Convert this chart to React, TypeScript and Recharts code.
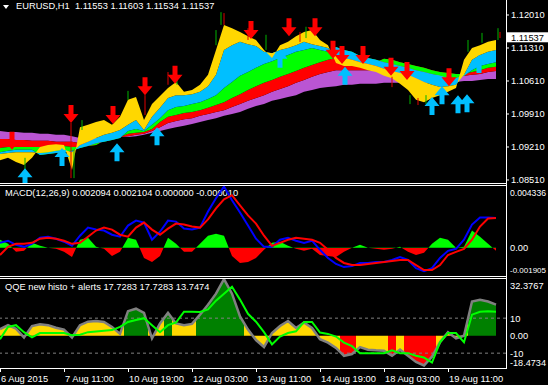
import React from 'react';
import { ComposedChart, Area, Line, Scatter, XAxis, YAxis, ReferenceLine } from 'recharts';

// H1 bars, sampled every 4th bar (bar 0 = 6 Aug 03:00)
const bars = [0, 4, 8, 12, 16, 20, 24, 28, 32, 36, 40, 44, 48, 52, 56, 60, 64, 68, 72, 76, 80, 84, 88, 92, 96, 100, 104, 108, 112, 116, 120, 124, 128, 132, 136, 140, 144, 148, 152, 156, 160, 164, 168, 172, 176, 180, 184, 188, 192, 196, 200, 204, 208, 212, 216, 220, 224, 228, 232, 236, 240, 244, 248];

// MA ribbon, slowest (ma0) to fastest (ma5)
const ma0 = [1.0955, 1.0953, 1.0953, 1.0951, 1.0951, 1.0949, 1.0949, 1.0947, 1.0947, 1.0944, 1.0940, 1.0940, 1.0940, 1.0940, 1.0940, 1.0942, 1.0942, 1.0944, 1.0947, 1.0951, 1.0955, 1.0959, 1.0963, 1.0966, 1.0970, 1.0974, 1.0978, 1.0982, 1.0987, 1.0991, 1.0995, 1.1002, 1.1008, 1.1012, 1.1019, 1.1023, 1.1027, 1.1031, 1.1038, 1.1042, 1.1046, 1.1048, 1.1050, 1.1053, 1.1053, 1.1055, 1.1055, 1.1055, 1.1057, 1.1057, 1.1057, 1.1057, 1.1057, 1.1057, 1.1057, 1.1059, 1.1059, 1.1059, 1.1061, 1.1061, 1.1063, 1.1065, 1.1065];
const ma1 = [1.0938, 1.0938, 1.0936, 1.0936, 1.0934, 1.0934, 1.0934, 1.0932, 1.0932, 1.0932, 1.0929, 1.0932, 1.0934, 1.0936, 1.0938, 1.0942, 1.0944, 1.0947, 1.0949, 1.0955, 1.0963, 1.0972, 1.0976, 1.0980, 1.0982, 1.0987, 1.0991, 1.0995, 1.0999, 1.1006, 1.1012, 1.1019, 1.1025, 1.1031, 1.1038, 1.1044, 1.1050, 1.1057, 1.1063, 1.1070, 1.1076, 1.1080, 1.1084, 1.1084, 1.1084, 1.1084, 1.1084, 1.1084, 1.1084, 1.1084, 1.1082, 1.1080, 1.1078, 1.1076, 1.1074, 1.1074, 1.1072, 1.1072, 1.1072, 1.1074, 1.1076, 1.1080, 1.1082];
const ma2 = [1.0919, 1.0921, 1.0921, 1.0921, 1.0921, 1.0921, 1.0921, 1.0921, 1.0923, 1.0921, 1.0921, 1.0923, 1.0925, 1.0934, 1.0938, 1.0942, 1.0949, 1.0951, 1.0953, 1.0959, 1.0974, 1.0985, 1.0989, 1.0993, 1.0995, 1.0999, 1.1004, 1.1010, 1.1016, 1.1025, 1.1033, 1.1042, 1.1050, 1.1057, 1.1063, 1.1070, 1.1076, 1.1082, 1.1089, 1.1095, 1.1101, 1.1106, 1.1110, 1.1110, 1.1110, 1.1106, 1.1101, 1.1101, 1.1108, 1.1106, 1.1101, 1.1097, 1.1093, 1.1089, 1.1084, 1.1080, 1.1078, 1.1076, 1.1076, 1.1080, 1.1084, 1.1089, 1.1091];
const ma3 = [1.0910, 1.0913, 1.0915, 1.0915, 1.0915, 1.0904, 1.0906, 1.0908, 1.0910, 1.0913, 1.0919, 1.0923, 1.0929, 1.0932, 1.0936, 1.0940, 1.0955, 1.0959, 1.0955, 1.0968, 1.0982, 1.0999, 1.1006, 1.1008, 1.1012, 1.1016, 1.1023, 1.1031, 1.1046, 1.1059, 1.1072, 1.1080, 1.1089, 1.1097, 1.1103, 1.1110, 1.1116, 1.1123, 1.1127, 1.1131, 1.1127, 1.1123, 1.1133, 1.1127, 1.1123, 1.1114, 1.1110, 1.1106, 1.1101, 1.1097, 1.1093, 1.1089, 1.1084, 1.1080, 1.1076, 1.1072, 1.1067, 1.1067, 1.1072, 1.1084, 1.1093, 1.1097, 1.1101];
const ma4 = [1.0906, 1.0908, 1.0910, 1.0910, 1.0910, 1.0908, 1.0910, 1.0913, 1.0915, 1.0910, 1.0925, 1.0932, 1.0940, 1.0947, 1.0951, 1.0957, 1.0968, 1.0978, 1.0957, 1.0985, 1.1004, 1.1025, 1.1031, 1.1031, 1.1033, 1.1038, 1.1050, 1.1074, 1.1127, 1.1137, 1.1144, 1.1139, 1.1135, 1.1123, 1.1120, 1.1127, 1.1131, 1.1137, 1.1144, 1.1139, 1.1135, 1.1131, 1.1116, 1.1110, 1.1106, 1.1101, 1.1097, 1.1093, 1.1087, 1.1082, 1.1078, 1.1074, 1.1067, 1.1059, 1.1053, 1.1048, 1.1050, 1.1053, 1.1074, 1.1106, 1.1116, 1.1123, 1.1127];
const ma5 = [1.0893, 1.0898, 1.0889, 1.0883, 1.0898, 1.0921, 1.0925, 1.0927, 1.0925, 1.0872, 1.0963, 1.0968, 1.0974, 1.0978, 1.0968, 1.0985, 1.1021, 1.1027, 1.0978, 1.1012, 1.1029, 1.1046, 1.1059, 1.1038, 1.1042, 1.1053, 1.1074, 1.1127, 1.1180, 1.1173, 1.1165, 1.1156, 1.1148, 1.1127, 1.1110, 1.1137, 1.1144, 1.1156, 1.1165, 1.1169, 1.1148, 1.1137, 1.1099, 1.1093, 1.1093, 1.1089, 1.1084, 1.1080, 1.1072, 1.1067, 1.1055, 1.1042, 1.1021, 1.1016, 1.1025, 1.1031, 1.1038, 1.1046, 1.1106, 1.1131, 1.1137, 1.1144, 1.1148];

// last candle O H L C
const lastBar = [1.11553, 1.11603, 1.11534, 1.11537];

// candle wicks poking out of the ribbon
const wickBars = [12.5, 35.5, 37, 41, 64, 72.5, 84, 88.5, 108, 110.5, 112, 124, 133, 150, 153, 196, 205, 209, 213, 234, 241, 249, 250];
const wickHigh = [1.0898, 1.0972, 1.0915, 1.0978, 1.1040, 1.1031, 1.1080, 1.1074, 1.1169, 1.1207, 1.1205, 1.1173, 1.1159, 1.1165, 1.1176, 1.1070, 1.1031, 1.1025, 1.1031, 1.1148, 1.1163, 1.1173, 1.1165];
const wickLow = [1.0868, 1.0855, 1.0855, 1.0957, 1.1021, 1.0989, 1.1053, 1.1053, 1.1137, 1.1180, 1.1180, 1.1148, 1.1127, 1.1144, 1.1152, 1.1048, 1.1012, 1.1010, 1.1012, 1.1123, 1.1142, 1.1148, 1.1152];
const wickBull = [true, false, true, true, true, false, false, true, true, true, false, false, true, false, true, false, true, false, true, true, true, true, false];

// signal arrows (price at the arrow tip)
const sellBars = [6, 35.5, 56.5, 72.5, 87.5, 125.5, 144.5, 157.5, 166.5, 171, 181.5, 195.5, 203.5, 224.5];
const sellPrice = [1.0915, 1.0972, 1.0970, 1.1031, 1.1055, 1.1150, 1.1156, 1.1156, 1.1108, 1.1097, 1.1097, 1.1072, 1.1063, 1.1050];
const buyBars = [12.5, 31, 58.5, 78.5, 140, 172.5, 216, 221, 229, 233.5, 239.5];
const buyPrice = [1.0876, 1.0919, 1.0929, 1.0963, 1.1127, 1.1091, 1.1027, 1.1050, 1.1031, 1.1033, 1.1116];

// MACD(12,26,9)
const macdMain = [0.00035, 0.00050, 0.00021, 0.00007, 0.00028, 0.00071, 0.00078, 0.00064, 0.00043, 0.00014, 0.00085, 0.00142, 0.00128, 0.00121, 0.00092, 0.00078, 0.00156, 0.00191, 0.00177, 0.00057, 0.00113, 0.00191, 0.00184, 0.00135, 0.00128, 0.00142, 0.00255, 0.00348, 0.00430, 0.00333, 0.00248, 0.00156, 0.00064, 0.00007, 0.00007, 0.00057, 0.00071, 0.00050, 0.00035, 0.00050, -0.00014, -0.00071, -0.00113, -0.00135, -0.00128, -0.00106, -0.00106, -0.00099, -0.00099, -0.00085, -0.00064, -0.00085, -0.00142, -0.00163, -0.00142, -0.00071, -0.00021, -0.00007, 0.00057, 0.00163, 0.00213, 0.00213, 0.00209];
const macdSignal = [-0.00050, 0.00007, 0.00028, 0.00028, 0.00035, 0.00064, 0.00071, 0.00064, 0.00050, 0.00028, 0.00035, 0.00078, 0.00121, 0.00142, 0.00128, 0.00092, 0.00078, 0.00142, 0.00177, 0.00128, 0.00092, 0.00135, 0.00170, 0.00163, 0.00149, 0.00142, 0.00199, 0.00277, 0.00340, 0.00369, 0.00298, 0.00227, 0.00170, 0.00085, 0.00014, 0.00035, 0.00057, 0.00071, 0.00064, 0.00057, 0.00035, -0.00014, -0.00071, -0.00106, -0.00121, -0.00121, -0.00113, -0.00106, -0.00099, -0.00092, -0.00085, -0.00085, -0.00121, -0.00156, -0.00156, -0.00121, -0.00050, -0.00028, -0.00007, 0.00057, 0.00149, 0.00206, 0.00210];
const macdHist = [0.00057, 0.00028, -0.00028, -0.00021, 0.00035, 0.00014, 0, -0.00007, -0.00028, -0.00064, 0.00057, 0.00071, 0.00007, -0.00007, -0.00057, -0.00028, 0.00071, 0.00057, -0.00071, -0.00099, -0.00057, 0.00071, 0.00028, -0.00028, -0.00028, 0.00028, 0.00085, 0.00099, 0.00085, -0.00057, -0.00106, -0.00099, -0.00071, -0.00014, 0.00035, 0.00043, 0.00014, -0.00007, -0.00021, -0.00007, -0.00050, -0.00057, -0.00064, -0.00028, 0, 0.00021, 0, -0.00007, -0.00014, -0.00007, 0.00007, -0.00028, -0.00050, -0.00035, 0.00028, 0.00071, 0.00057, 0, 0.00007, 0.00121, 0.00078, 0.00028, -0.00021];
const macdLegend = [0.002094, 0.002104, 0, -0.00001];

// QQE new histo
const qqeRsi = [3.8, 6, 4, -1, 5.5, 6.5, 6, 4.5, 3.5, -1, 6, 8, 8.4, 7.8, 5, 1, 14, 15.4, 13, -1.5, 7, 13, 7, 6, 6.7, 12, 17.7, 24, 32.3, 24, 11, 3.5, -2.5, -6.5, 1.5, 5.5, 8.4, 4.4, 7.5, 4.4, -2, -4, -7, -11.5, -10.5, -6.5, -8, -8.4, -8.6, -11.5, -8, -11.5, -15, -17, -12, -3.8, 2, -1.5, 0, 19.5, 20.5, 19.5, 17.7];
const qqeTrail = [-2, 5, 6, 2, -1, 1.5, 1.5, 1.5, 1.5, 0.3, 0.5, 2, 2.4, 2.8, 3.2, 5, 7.8, 9, 10, 6, 2, 6, 7.5, 13.7, 13.7, 13.5, 15, 20, 24, 28, 20.6, 12.5, 8, 2, -5, -0.5, 1.5, 2.5, 7.8, 7.8, 1.8, 1, -0.5, -4, -6, -10, -10, -10, -10, -8.4, -10, -10, -11.5, -12.5, -15.4, -3.8, 1.5, 1.5, -3.8, 12, 13.7, 13.9, 13.7];
const qqeLegend = [17.7283, 17.7283, 13.7474];

const timeTickBars = [0, 32, 64, 96, 128, 160, 192, 224];
const timeLabels = ['6 Aug 2015', '7 Aug 11:00', '10 Aug 19:00', '12 Aug 03:00', '13 Aug 11:00', '14 Aug 19:00', '18 Aug 03:00', '19 Aug 11:00'];

const priceTicks = [1.1201, 1.1131, 1.1061, 1.0991, 1.0921, 1.0851];

const W = 548;
const AXIS_W = 42;
const PLOT_W = W - AXIS_W;
const BAR_SPAN = 253;
const PRICE_MIN = 1.08446, PRICE_MAX = 1.12328;
const MACD_MIN = -0.001905, MACD_MAX = 0.004336;
const QQE_MIN = -18.4734, QQE_MAX = 32.3767;
const MAIN_H = 183, SUB_H = 89, TIME_H = 17;
const FONT = '"Liberation Sans", Arial, sans-serif';
const FS = 9.3;

const mainRows = bars.map((bar, i) => ({ bar, m0: ma0[i], m1: ma1[i], m2: ma2[i], m3: ma3[i], m4: ma4[i], m5: ma5[i] }));
const macdRows = bars.map((bar, i) => ({ bar, main: macdMain[i], signal: macdSignal[i], hist: macdHist[i] }));
const qqeRows = bars.map((bar, i) => ({ bar, rsi: qqeRsi[i], trail: qqeTrail[i] }));
const sells = sellBars.map((bar, i) => ({ bar, price: sellPrice[i] }));
const buys = buyBars.map((bar, i) => ({ bar, price: buyPrice[i] }));

const ribbon = [
  { k: ['m0', 'm1'], c: '#BA55D3' },
  { k: ['m1', 'm2'], c: '#FF0000' },
  { k: ['m2', 'm3'], c: '#00FF00' },
  { k: ['m3', 'm4'], c: '#00BFFF' },
  { k: ['m4', 'm5'], c: '#FFD700' },
];

const qqeColor = (v: number) => (v > 10 ? '#008000' : v < -10 ? '#FF0000' : '#FFD700');

const arrowPts = (cx: number, cy: number, dir: number) =>
  [[-2.5, -18], [2.5, -18], [2.5, -9], [7.5, -9], [0, 0], [-7.5, -9], [-2.5, -9]]
    .map(([dx, dy]) => `${cx + dx},${cy + dy * dir}`)
    .join(' ');

const SellArrow = (p: any) => <polygon points={arrowPts(p.cx, p.cy, 1)} fill="#FF0000" />;
const BuyArrow = (p: any) => <polygon points={arrowPts(p.cx, p.cy, -1)} fill="#00BFFF" />;

// rough Arial advance widths, used to shrink a right-axis label that would run off the window
const textEm = (s: string) => [...s].reduce((w, ch) => w + (ch === '.' ? 0.278 : ch === '-' ? 0.333 : 0.556), 0);
const fitSize = (x: number, s: string) => Math.min(FS, (W - 2 - x) / textEm(s));

const PriceTick = ({ x, y, payload }: any) => {
  const v = payload.value;
  const isClose = v === lastBar[3];
  return (
    <g>
      {isClose && <rect x={x - 4} y={y - 5} width={W - x + 4} height={10} fill="#fff" />}
      <text x={x} y={y} dy="0.36em" fill={isClose ? '#000' : '#fff'} fontSize={FS} fontFamily={FONT}>{v.toFixed(5)}</text>
    </g>
  );
};

const subTick = (max: number, min: number, fmt: (v: number) => string) => ({ x, y, payload }: any) => {
  const v = payload.value;
  const shift = v === max ? 7 : v === min ? -5 : 0;
  const s = fmt(v);
  return (
    <text x={x} y={y + shift} dy="0.36em" fill="#fff" fontSize={fitSize(x, s)} fontFamily={FONT}>{s}</text>
  );
};
const MacdTick = subTick(MACD_MAX, MACD_MIN, (v) => (v === 0 ? '0.00' : v.toFixed(6)));
const QqeTick = subTick(QQE_MAX, QQE_MIN, (v) => (v === 0 ? '0.00' : Number.isInteger(v) ? String(v) : v.toFixed(4)));

const TimeTick = ({ x, y, payload }: any) => {
  const label = timeLabels[timeTickBars.indexOf(payload.value)];
  return (
    <g>
      <line x1={x + 0.5} y1={y} x2={x + 0.5} y2={y + 4} stroke="#fff" />
      <text x={x + 1} y={y + 14} fill="#fff" fontSize={FS} fontFamily={FONT}>{label}</text>
    </g>
  );
};

const hLine = (top: number) => (
  <div style={{ position: 'absolute', left: 0, top, width: PLOT_W + 1, height: 1, background: '#fff' }} />
);

const titleStyle = (top: number, left: number): React.CSSProperties => ({
  position: 'absolute', left, top, color: '#fff', fontSize: FS, fontFamily: FONT, lineHeight: '11px', whiteSpace: 'pre',
});

export default function App() {
  const zeroFrac = MACD_MAX / (MACD_MAX - MACD_MIN);
  const qqeStops = bars.flatMap((b, i) => {
    const c = qqeColor(qqeRsi[i]);
    return [
      <stop key={`a${i}`} offset={Math.max(0, (b - 2) / BAR_SPAN)} stopColor={c} />,
      <stop key={`b${i}`} offset={Math.min(1, (b + 2) / BAR_SPAN)} stopColor={c} />,
    ];
  });

  return (
    <div style={{ position: 'fixed', left: 0, top: 0, width: W, height: 385, background: '#000', overflow: 'hidden' }}>
      <div style={{ position: 'absolute', left: 3, top: 5, width: 0, height: 0, borderLeft: '3px solid transparent', borderRight: '3px solid transparent', borderTop: '4px solid #fff' }} />
      <div style={titleStyle(1, 16)}>{`EURUSD,H1  ${lastBar.map((v) => v.toFixed(5)).join(' ')}`}</div>
      <div style={titleStyle(188, 5)}>{`MACD(12,26,9) ${macdLegend.map((v) => v.toFixed(6)).join(' ')}`}</div>
      <div style={titleStyle(282, 5)}>{`QQE new histo + alerts ${qqeLegend.map((v) => v.toFixed(4)).join(' ')}`}</div>

      <div style={{ position: 'absolute', left: 0, top: 0 }}>
        <ComposedChart width={W} height={MAIN_H + 4} data={mainRows} margin={{ top: 0, right: 0, bottom: 4, left: 0 }}>
          <XAxis type="number" dataKey="bar" domain={[0, BAR_SPAN]} allowDataOverflow hide />
          <YAxis type="number" orientation="right" width={AXIS_W} domain={[PRICE_MIN, PRICE_MAX]} allowDataOverflow
            ticks={[...priceTicks, lastBar[3]]} interval={0} tickSize={3} tickMargin={2}
            tickLine={{ stroke: '#fff' }} axisLine={false} tick={(p: any) => <PriceTick {...p} />} />
          {wickBars.map((b, i) => (
            <Line key={`w${i}`} data={[{ bar: b, v: wickLow[i] }, { bar: b, v: wickHigh[i] }]} dataKey="v"
              stroke={wickBull[i] ? '#00B400' : '#E00000'} strokeWidth={1} dot={false} activeDot={false} isAnimationActive={false} />
          ))}
          {ribbon.map((r) => (
            <Area key={r.c} type="linear" dataKey={(d: any) => [d[r.k[0]], d[r.k[1]]]} fill={r.c} fillOpacity={1}
              stroke="none" dot={false} activeDot={false} isAnimationActive={false} />
          ))}
          <Scatter data={sells} dataKey="price" shape={SellArrow} isAnimationActive={false} />
          <Scatter data={buys} dataKey="price" shape={BuyArrow} isAnimationActive={false} />
        </ComposedChart>
      </div>

      <div style={{ position: 'absolute', left: 0, top: 186 }}>
        <ComposedChart width={W} height={SUB_H} data={macdRows} margin={{ top: 0, right: 0, bottom: 0, left: 0 }}>
          <defs>
            <linearGradient id="macdHist" gradientUnits="userSpaceOnUse" x1={0} y1={0} x2={0} y2={SUB_H}>
              <stop offset={0} stopColor="#00FF00" />
              <stop offset={zeroFrac} stopColor="#00FF00" />
              <stop offset={zeroFrac} stopColor="#FF0000" />
              <stop offset={1} stopColor="#FF0000" />
            </linearGradient>
          </defs>
          <XAxis type="number" dataKey="bar" domain={[0, BAR_SPAN]} allowDataOverflow hide />
          <YAxis type="number" orientation="right" width={AXIS_W} domain={[MACD_MIN, MACD_MAX]} allowDataOverflow
            ticks={[MACD_MAX, 0, MACD_MIN]} interval={0} tickSize={3} tickMargin={1}
            tickLine={false} axisLine={false} tick={(p: any) => <MacdTick {...p} />} />
          <Area type="linear" dataKey="hist" baseValue={0} fill="url(#macdHist)" fillOpacity={1} stroke="none"
            dot={false} activeDot={false} isAnimationActive={false} />
          <Line type="linear" dataKey="main" stroke="#0000FF" strokeWidth={2} dot={false} activeDot={false} isAnimationActive={false} />
          <Line type="linear" dataKey="signal" stroke="#FF0000" strokeWidth={2} dot={false} activeDot={false} isAnimationActive={false} />
        </ComposedChart>
      </div>

      <div style={{ position: 'absolute', left: 0, top: 279 }}>
        <ComposedChart width={W} height={SUB_H + TIME_H} data={qqeRows} margin={{ top: 0, right: 0, bottom: 0, left: 0 }}>
          <defs>
            <linearGradient id="qqeFill" gradientUnits="userSpaceOnUse" x1={0} y1={0} x2={PLOT_W} y2={0}>
              {qqeStops}
            </linearGradient>
          </defs>
          <XAxis type="number" dataKey="bar" domain={[0, BAR_SPAN]} allowDataOverflow ticks={timeTickBars} interval={0}
            height={TIME_H} axisLine={false} tickLine={false} tickSize={0} tickMargin={0} tick={(p: any) => <TimeTick {...p} />} />
          <YAxis type="number" orientation="right" width={AXIS_W} domain={[QQE_MIN, QQE_MAX]} allowDataOverflow
            ticks={[QQE_MAX, 10, 0, -10, QQE_MIN]} interval={0} tickSize={3} tickMargin={1}
            tickLine={false} axisLine={false} tick={(p: any) => <QqeTick {...p} />} />
          <ReferenceLine y={10} stroke="#808080" strokeDasharray="3 3" />
          <ReferenceLine y={-10} stroke="#808080" strokeDasharray="3 3" />
          <Area type="linear" dataKey="rsi" baseValue={0} fill="url(#qqeFill)" fillOpacity={1} stroke="none"
            dot={false} activeDot={false} isAnimationActive={false} />
          <Line type="linear" dataKey="rsi" stroke="#808080" strokeWidth={2.5} dot={false} activeDot={false} isAnimationActive={false} />
          <Line type="linear" dataKey="trail" stroke="#00FF00" strokeWidth={2} dot={false} activeDot={false} isAnimationActive={false} />
        </ComposedChart>
      </div>

      {hLine(183)}
      {hLine(185)}
      {hLine(276)}
      {hLine(278)}
      {hLine(368)}
      <div style={{ position: 'absolute', left: PLOT_W, top: 0, width: 1, height: 369, background: '#fff' }} />
    </div>
  );
}
